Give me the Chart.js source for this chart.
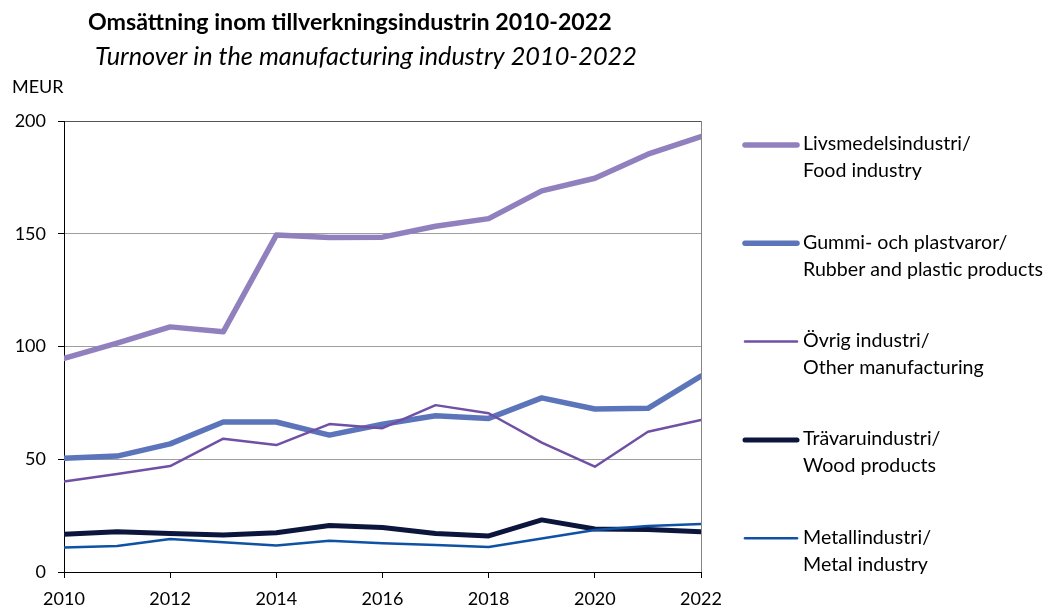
<!DOCTYPE html>
<html>
<head>
<meta charset="utf-8">
<script src="https://cdn.jsdelivr.net/npm/chart.js@4.4.1/dist/chart.umd.min.js"></script>
<style>
  html, body { margin: 0; padding: 0; background: #fff; }
  #wrap { width: 1048px; height: 609px; position: relative; }
</style>
</head>
<body>
<div id="wrap"><canvas id="c" width="1048" height="609"></canvas></div>
<script>
const years = [2010, 2011, 2012, 2013, 2014, 2015, 2016, 2017, 2018, 2019, 2020, 2021, 2022];
const food   = [94.7, 101.5, 108.7, 106.5, 149.4, 148.3, 148.5, 153.3, 156.7, 169.0, 174.6, 185.3, 193.1];
const rubber = [50.4, 51.4, 56.8, 66.5, 66.5, 60.7, 65.5, 69.3, 68.1, 77.2, 72.3, 72.6, 86.9];
const other  = [40.1, 43.5, 47.0, 59.1, 56.3, 65.6, 63.8, 74.0, 70.4, 57.4, 46.7, 62.2, 67.4];
const wood   = [16.7, 17.9, 17.1, 16.4, 17.4, 20.6, 19.7, 17.1, 16.0, 23.1, 19.1, 18.9, 17.9];
const metal  = [10.9, 11.5, 14.6, 13.2, 11.7, 13.9, 12.7, 12.0, 11.1, 14.9, 18.6, 20.4, 21.3];
const yTicks = [0, 50, 100, 150, 200];
const xTicks = [2010, 2012, 2014, 2016, 2018, 2020, 2022];

const titleText = 'Omsättning inom tillverkningsindustrin 2010-2022';
const subtitleText = 'Turnover in the manufacturing industry 2010-2022';
const unitText = 'MEUR';
const seriesNames = [
  ['Livsmedelsindustri/', 'Food industry'],
  ['Gummi- och plastvaror/', 'Rubber and plastic products'],
  ['Övrig industri/', 'Other manufacturing'],
  ['Trävaruindustri/', 'Wood products'],
  ['Metallindustri/', 'Metal industry']
];
const seriesValues = [food, rubber, other, wood, metal];
const seriesColors = ['#9180BE', '#5C75BA', '#7050A5', '#0C163C', '#0F52A5'];
const seriesWidths = [5.5, 5.5, 2.5, 5, 2.5];
const seriesOrder = [3, 4, 1, 2, 0];

const FONT = 'Lato, "Open Sans", sans-serif';

function fitFont(ctx, text, width, style) {
  let size = 30;
  ctx.font = style + ' ' + size + 'px ' + FONT;
  const w = ctx.measureText(text).width;
  size = size * width / w;
  return style + ' ' + size.toFixed(2) + 'px ' + FONT;
}

const textPlugin = {
  id: 'texts',
  afterDraw(chart) {
    const ctx = chart.ctx;
    ctx.save();
    ctx.fillStyle = '#000';
    ctx.textBaseline = 'middle';
    ctx.textAlign = 'left';
    ctx.font = fitFont(ctx, titleText, 524, 'bold');
    ctx.fillText(titleText, 88, 23);
    ctx.font = fitFont(ctx, subtitleText, 542, 'italic');
    ctx.fillText(subtitleText, 95, 57);
    ctx.font = '18px ' + FONT;
    ctx.fillText(unitText, 12, 87);

    const legFont = fitFont(ctx, seriesNames[1][1], 240, 'normal');
    const startY = 145, stepY = 98.3;
    seriesNames.forEach((lines, i) => {
      const yy = startY + i * stepY;
      ctx.strokeStyle = seriesColors[i];
      ctx.lineWidth = seriesWidths[i];
      ctx.lineCap = 'round';
      ctx.beginPath();
      ctx.moveTo(745, yy);
      ctx.lineTo(797, yy);
      ctx.stroke();
      ctx.font = legFont;
      ctx.fillStyle = '#000';
      ctx.fillText(lines[0], 803, yy - 1);
      ctx.fillText(lines[1], 803, yy + 26);
    });
    ctx.restore();
  }
};

const datasets = seriesValues.map((vals, i) => ({
  label: seriesNames[i].join(' '),
  data: years.map((y, k) => ({ x: y, y: vals[k] })),
  borderColor: seriesColors[i],
  backgroundColor: seriesColors[i],
  borderWidth: seriesWidths[i],
  pointRadius: 0,
  pointHoverRadius: 0,
  tension: 0,
  borderJoinStyle: 'round',
  borderCapStyle: 'round',
  fill: false,
  order: seriesOrder[i]
}));

new Chart(document.getElementById('c'), {
  type: 'line',
  data: { datasets },
  plugins: [textPlugin],
  options: {
    responsive: false,
    animation: false,
    devicePixelRatio: 1,
    layout: { padding: { left: 0, right: 347, top: 121, bottom: 0 } },
    plugins: { legend: { display: false }, tooltip: { enabled: false }, title: { display: false } },
    scales: {
      x: {
        type: 'linear',
        min: 2010, max: 2022,
        afterFit(s) { s.height = 37; },
        afterBuildTicks(s) { s.ticks = xTicks.map(v => ({ value: v })); },
        ticks: { color: '#000', font: { family: FONT, size: 18 }, padding: 10, callback: v => String(v) },
        grid: {
          drawOnChartArea: true,
          color: c => (c.tick && c.tick.value === 2022) ? '#858585' : 'rgba(0,0,0,0)',
          tickColor: '#000',
          tickLength: 6,
          lineWidth: 1
        },
        border: { display: true, color: '#000', width: 1 }
      },
      y: {
        type: 'linear',
        min: 0, max: 200,
        afterFit(s) { s.width = 64; },
        afterBuildTicks(s) { s.ticks = yTicks.map(v => ({ value: v })); },
        ticks: { color: '#000', font: { family: FONT, size: 18 }, padding: 12 },
        grid: {
          color: c => {
            const v = c.tick ? c.tick.value : null;
            if (v === 200) return '#555555';
            if (v === 0) return 'rgba(0,0,0,0)';
            return '#9e9e9e';
          },
          tickColor: '#000',
          tickLength: 6,
          lineWidth: 1
        },
        border: { display: true, color: '#000', width: 1 }
      }
    }
  }
});
</script>
</body>
</html>
